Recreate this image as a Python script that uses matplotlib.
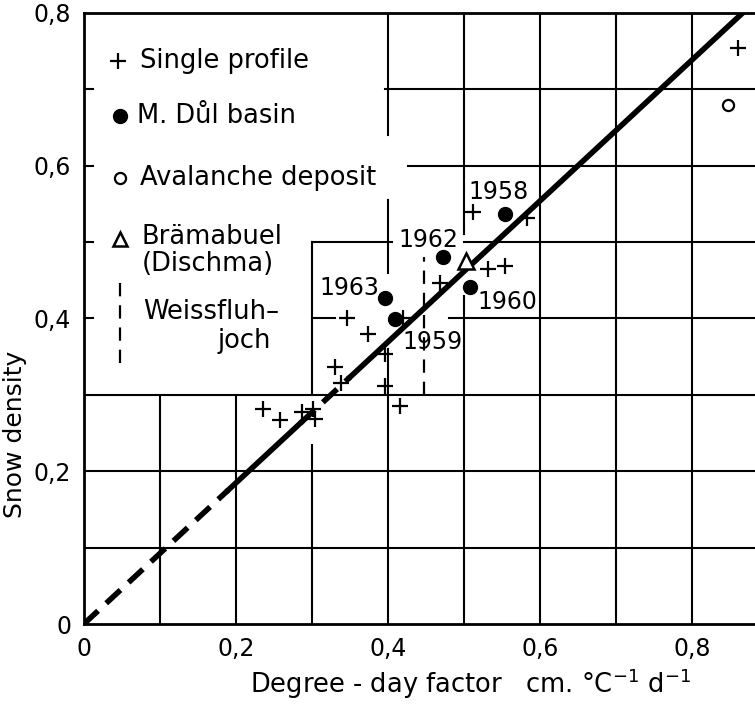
import matplotlib.pyplot as plt

# single profiles (+)
single_x = [0.236, 0.258, 0.287, 0.302, 0.304, 0.330, 0.339, 0.346, 0.374, 0.396,
            0.396, 0.416, 0.420, 0.468, 0.512, 0.532, 0.554, 0.583, 0.861]
single_y = [0.282, 0.267, 0.277, 0.282, 0.269, 0.336, 0.315, 0.401, 0.380, 0.354,
            0.312, 0.286, 0.401, 0.446, 0.539, 0.465, 0.469, 0.531, 0.754]

# M. Dul basin (filled dots) with year labels
basin_x = [0.554, 0.472, 0.396, 0.409, 0.508]
basin_y = [0.537, 0.480, 0.427, 0.399, 0.441]
basin_years = ['1958', '1962', '1963', '1959', '1960']
label_x = [0.545, 0.453, 0.350, 0.459, 0.557]
label_y = [0.566, 0.503, 0.440, 0.369, 0.421]

# avalanche deposit (open circle)
aval_x = [0.847]
aval_y = [0.680]

# Brämabuel (open triangle)
bram_x = [0.503]
bram_y = [0.475]

# Weissfluhjoch range (dashed vertical)
weiss_x = 0.447
weiss_lo, weiss_hi = 0.300, 0.480

# regression line through origin
slope = 0.923

fig = plt.figure(figsize=(7.55, 7.04), dpi=100)
ax = fig.add_axes([0.111, 0.1136, 0.889, 0.868])
ax.set_xlim(0, 0.883)
ax.set_ylim(0, 0.8)

lw_grid = 1.5
# broken grid as on the original sheet (horizontal: y, x0, x1)
hgrid = [(0.1, 0, 0.883), (0.2, 0, 0.883), (0.3, 0, 0.883),
         (0.4, 0.30, 0.33), (0.4, 0.48, 0.883),
         (0.5, 0.30, 0.406), (0.5, 0.50, 0.883),
         (0.6, 0.426, 0.883), (0.7, 0.396, 0.883)]
vgrid = [(0.1, 0, 0.3), (0.2, 0, 0.3),
         (0.3, 0, 0.235), (0.3, 0.3, 0.5),
         (0.4, 0, 0.36), (0.4, 0.46, 0.555), (0.4, 0.64, 0.8),
         (0.5, 0, 0.43), (0.5, 0.51, 0.8),
         (0.6, 0, 0.8), (0.7, 0, 0.8), (0.8, 0, 0.8)]
for y, x0, x1 in hgrid:
    ax.plot([x0, x1], [y, y], color='black', lw=lw_grid, zorder=1)
for x, y0, y1 in vgrid:
    ax.plot([x, x], [y0, y1], color='black', lw=lw_grid, zorder=1)

# inward ticks on the left spine in the legend area
for y in [0.4, 0.5, 0.6, 0.7]:
    ax.plot([0, 0.012], [y, y], color='black', lw=lw_grid, zorder=1)

# regression line: dashed near origin, solid where data exist
ax.plot([0, 0.19], [0, slope * 0.19], color='black', lw=4, dashes=(3.5, 2), zorder=3)
ax.plot([0.19, 0.285], [slope * 0.19, slope * 0.285], color='black', lw=4, zorder=3)
ax.plot([0.285, 0.35], [slope * 0.285, slope * 0.35], color='black', lw=4, dashes=(3.5, 2), zorder=3)
ax.plot([0.35, 0.8 / slope], [slope * 0.35, 0.8], color='black', lw=4, zorder=3)

# data
ax.plot(single_x, single_y, '+', color='black', ms=11, mew=1.6, zorder=4)
ax.plot(basin_x, basin_y, 'o', color='black', ms=10, zorder=4)
ax.plot(aval_x, aval_y, 'o', mfc='white', mec='black', ms=8, mew=1.6, zorder=4)
ax.plot(bram_x, bram_y, '^', mfc='white', mec='black', ms=11, mew=1.8, zorder=4)
ax.plot([weiss_x, weiss_x], [weiss_lo, weiss_hi], color='black', lw=1.6,
        dashes=(6, 4), zorder=2)
for lx, ly, t in zip(label_x, label_y, basin_years):
    ax.text(lx, ly, t, fontsize=17, ha='center', va='center', zorder=5)

# legend drawn by hand
fs = 18.5
ax.plot([0.045], [0.737], '+', color='black', ms=12, mew=1.6)
ax.text(0.074, 0.737, 'Single profile', fontsize=fs, va='center')
ax.plot([0.047], [0.665], 'o', color='black', ms=10)
ax.text(0.070, 0.665, 'M. D\u016fl basin', fontsize=fs, va='center')
ax.plot([0.047], [0.584], 'o', mfc='white', mec='black', ms=8, mew=1.6)
ax.text(0.074, 0.584, 'Avalanche deposit', fontsize=fs, va='center')
ax.plot([0.047], [0.504], '^', mfc='white', mec='black', ms=10, mew=1.8)
ax.text(0.076, 0.507, 'Br\u00e4mabuel', fontsize=fs, va='center')
ax.text(0.076, 0.471, '(Dischma)', fontsize=fs, va='center')
ax.plot([0.047, 0.047], [0.342, 0.446], color='black', lw=1.6, dashes=(6, 4))
ax.text(0.078, 0.408, 'Weissfluh\u2013', fontsize=fs, va='center')
ax.text(0.176, 0.371, 'joch', fontsize=fs, va='center')

# axes
ax.spines['right'].set_visible(False)
for s in ['left', 'bottom', 'top']:
    ax.spines[s].set_linewidth(2)
ax.set_xticks([0, 0.2, 0.4, 0.6, 0.8])
ax.set_xticklabels(['0', '0,2', '0,4', '0,6', '0,8'])
ax.set_yticks([0, 0.2, 0.4, 0.6, 0.8])
ax.set_yticklabels(['0', '0,2', '0,4', '0,6', '0,8'])
ax.tick_params(length=0, labelsize=17, pad=9)
ax.set_xlabel('Degree - day factor   cm. \u00b0C$^{-1}$ d$^{-1}$', fontsize=18.5)
ax.xaxis.set_label_coords(0.577, -0.07)
ax.set_ylabel('Snow density', fontsize=18)
ax.yaxis.set_label_coords(-0.085, 0.31)

plt.savefig('out.png', dpi=100)
